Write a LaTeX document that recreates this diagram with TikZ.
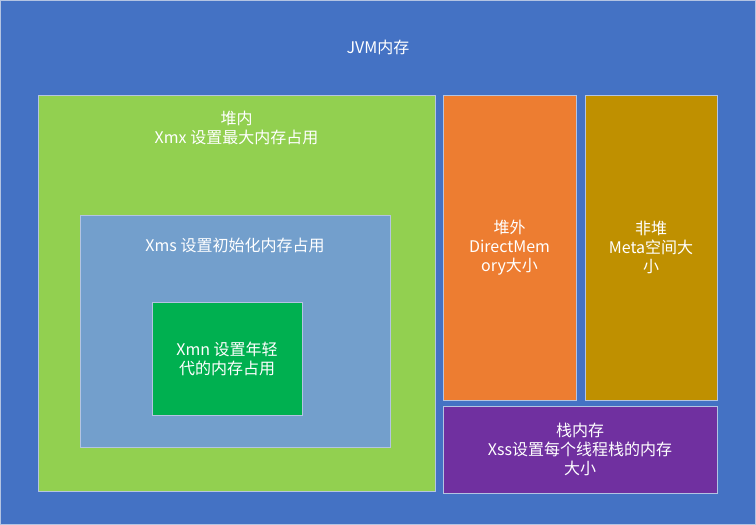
\documentclass[tikz,border=0pt]{standalone}
\usepackage{fontspec}
\setmainfont{Noto Sans CJK SC}
\usepackage{tikz}
\usetikzlibrary{positioning}
\definecolor{jvmblue}{HTML}{4472C4}
\definecolor{heapgreen}{HTML}{92D050}
\definecolor{xmsblue}{HTML}{739FCC}
\definecolor{xmngreen}{HTML}{00B050}
\definecolor{directorange}{HTML}{ED7D31}
\definecolor{metagold}{HTML}{BF9000}
\definecolor{stackpurple}{HTML}{7030A0}
\definecolor{edge}{HTML}{B4C4E2}
\tikzset{
  box/.style={draw=edge, line width=0.8pt, rectangle, inner sep=0pt, text=white, align=center,
    font=\fontsize{16}{19}\selectfont},
  boxtext/.style={inner sep=0pt, text=white, align=center, font=\fontsize{16}{19}\selectfont}
}
\begin{document}
\begin{tikzpicture}[x=1pt,y=-1pt]
\useasboundingbox (0,0) rectangle (756,525);
\node[box, fill=jvmblue, minimum width=755pt, minimum height=524pt] (jvm) at (378,262.5){};
\node[boxtext] (jvmtext) at (378,47){JVM内存};
\node[box, fill=heapgreen, minimum width=397pt, minimum height=396pt] (heap) at (236.5,293){};
\node[boxtext, below=16pt of heap.north] (heaptext){堆内\\Xmx 设置最大内存占用};
\node[box, fill=xmsblue, minimum width=310pt, minimum height=232pt] (xms) at (235,331){};
\node[boxtext, below=23pt of xms.north] (xmstext){Xms 设置初始化内存占用};
\node[box, fill=xmngreen, minimum width=150pt, minimum height=113pt] (xmn) at (227,358.5){Xmn 设置年轻\\代的内存占用};
\node[box, fill=directorange, minimum width=133pt, minimum height=305pt] (direct) at (509.5,247.5){堆外\\DirectMem\\ory大小};
\node[box, fill=metagold, minimum width=132pt, minimum height=305pt] (meta) at (651,247.5){非堆\\Meta空间大\\小};
\node[box, fill=stackpurple, minimum width=274pt, minimum height=87pt] (stack) at (580,449.5){栈内存\\Xss设置每个线程栈的内存\\大小};
\end{tikzpicture}
\end{document}
